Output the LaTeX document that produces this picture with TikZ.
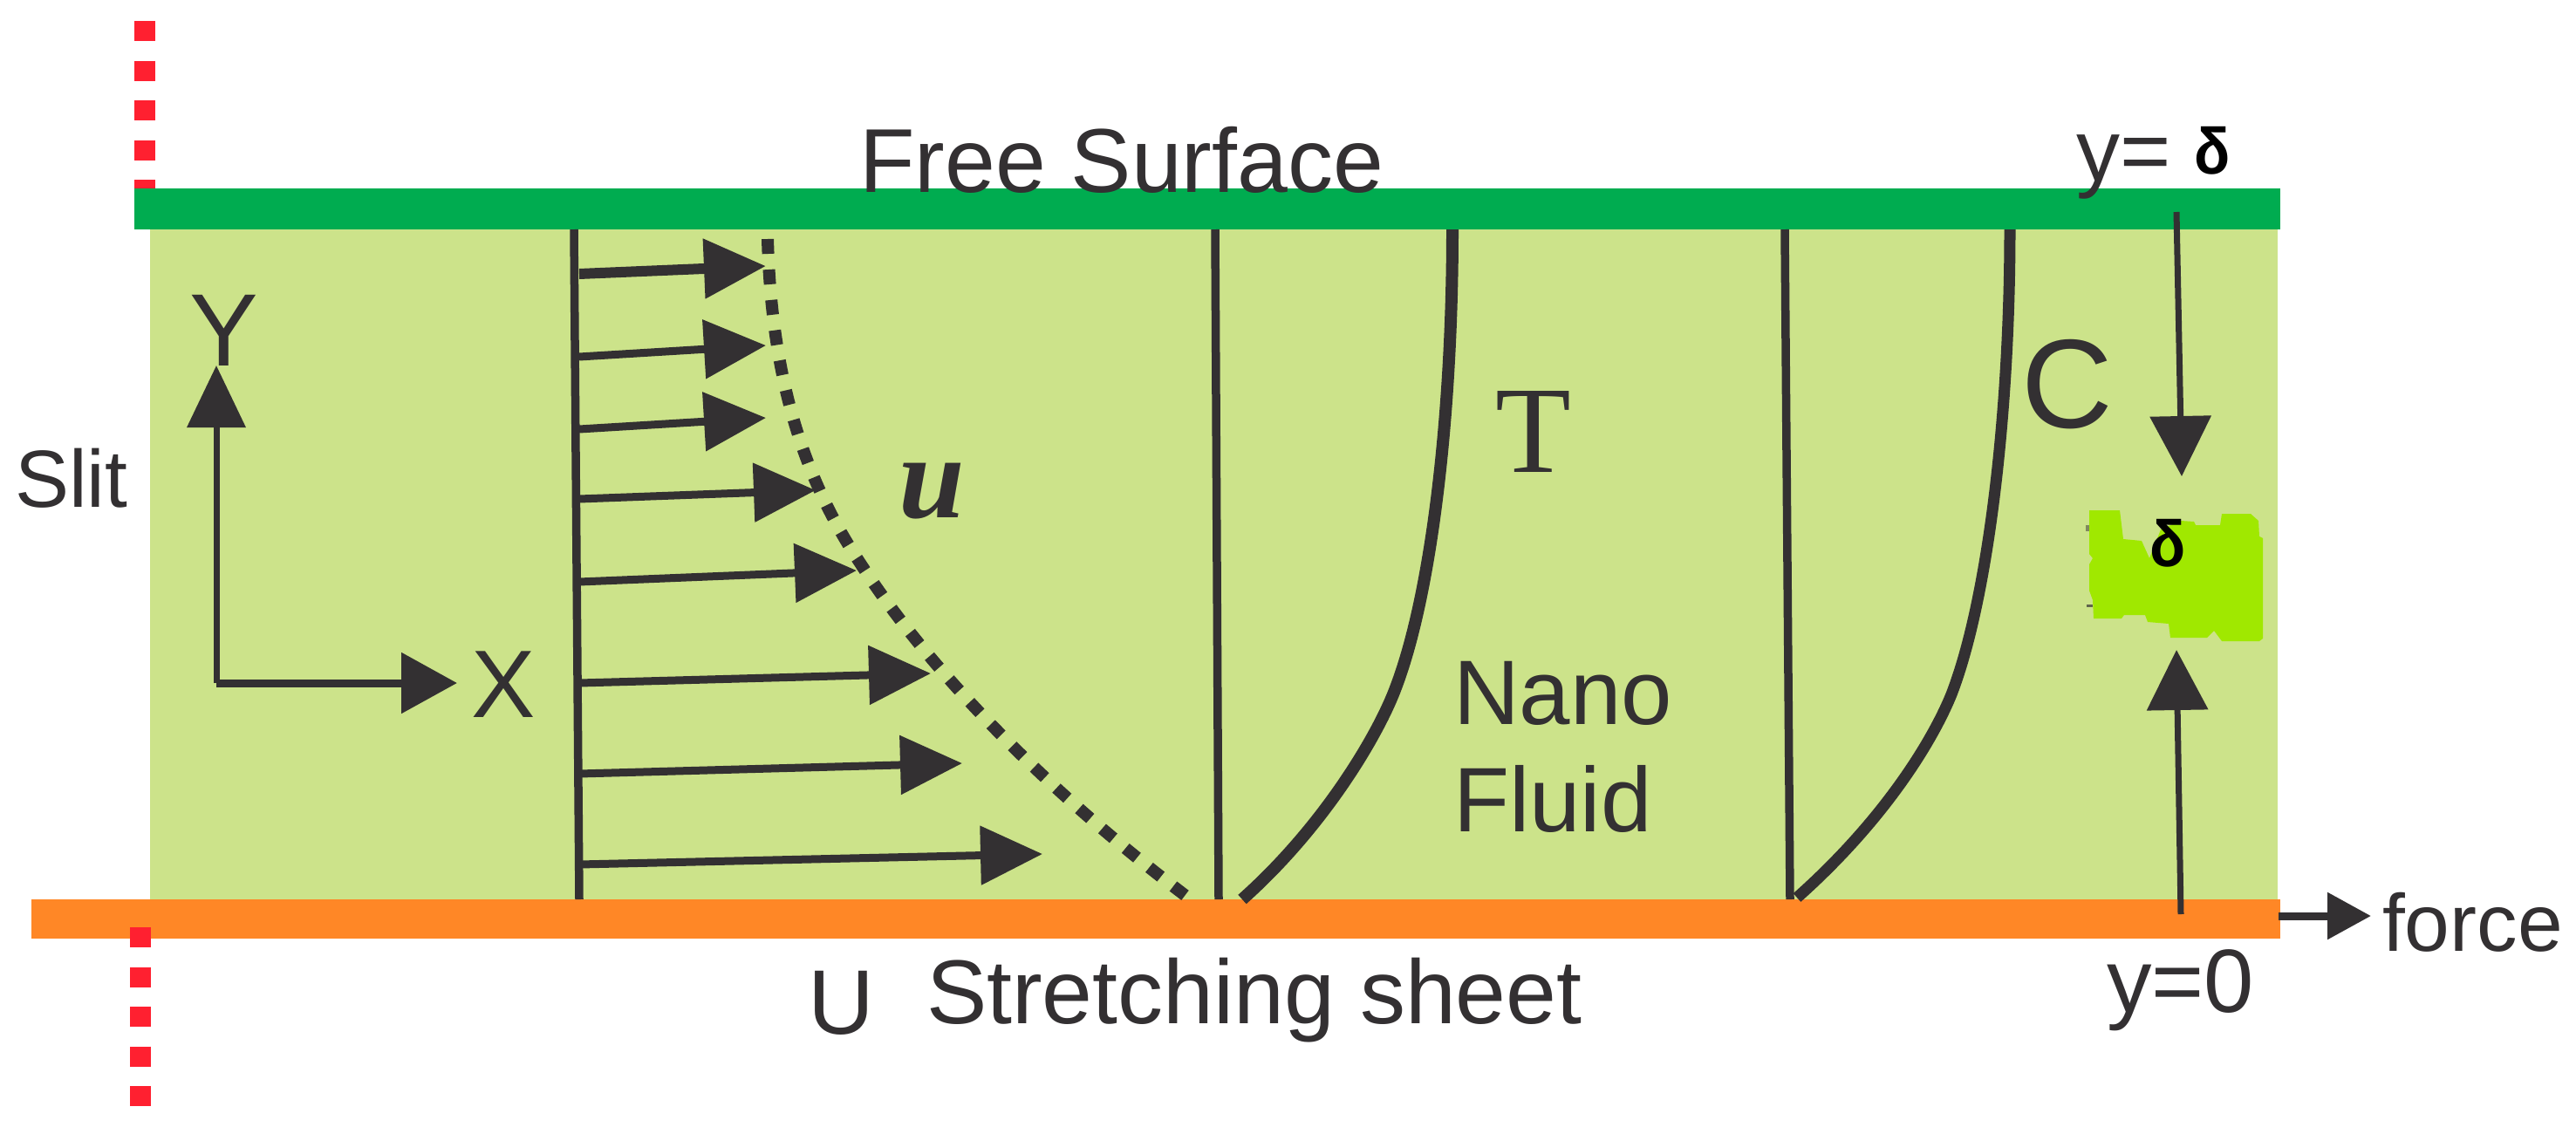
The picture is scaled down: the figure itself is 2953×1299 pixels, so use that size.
\documentclass[tikz,border=0pt]{standalone}
\usepackage{fontspec}
\setmainfont{Liberation Sans}
\newfontfamily\serifface{Liberation Serif}
\usetikzlibrary{arrows.meta}
\definecolor{ink}{HTML}{333032}
\definecolor{fluid}{HTML}{CCE38A}
\definecolor{topbar}{HTML}{00AC50}
\definecolor{sheet}{HTML}{FF8726}
\definecolor{blob}{HTML}{A0E800}
\definecolor{redline}{HTML}{FF2030}
\newcommand{\fs}[1]{\fontsize{#1}{#1}\selectfont}
\newcommand{\narrowdelta}{\scalebox{1.0}[1.1]{δ}}
\tikzset{
  x=1pt,y=-1pt,
  lbl/.style={anchor=base west,inner sep=0pt,outer sep=0pt,text=ink},
  profile/.style={draw=ink,line width=9.5pt},
  curveline/.style={draw=ink,line width=14pt},
  vel/.style={draw=ink,line width=9pt,-{Triangle[length=71pt,width=66pt]}},
  thin arrow/.style={draw=ink,line width=7pt,-{Triangle[length=69pt,width=69pt]}},
  reddash/.style={draw=redline,line width=24pt,dash pattern=on 23pt off 22.5pt},
}
\begin{document}
\begin{tikzpicture}
\useasboundingbox (0,0) rectangle (2953,1299);
% layers
\fill[fluid] (172,263) rectangle (2611,1031);
\fill[topbar] (154,216) rectangle (2614,263);
\fill[sheet] (36,1031) rectangle (2614,1076);
% red dashed slit
\draw[reddash] (166,24) -- (166,216);
\draw[reddash] (161,1063) -- (161,1273);
% blob
\fill[blob] (2395,585) -- (2430,585) -- (2434,618) -- (2455,620) -- (2464,640) -- (2477,607) -- (2500,597) -- (2515,598) -- (2517,602) -- (2545,602) -- (2547,589) -- (2580,589) -- (2589,597) -- (2590,615) -- (2594,617) -- (2594,732) -- (2590,735) -- (2547,735) -- (2538,723) -- (2530,731) -- (2488,731) -- (2486,715) -- (2462,713) -- (2459,705) -- (2435,705) -- (2432,709) -- (2400,709) -- (2399,688) -- (2395,677) -- (2395,647) -- (2399,640) -- (2395,635) -- cycle;
\fill[ink,opacity=.5] (2391,602) rectangle (2395,609);
\fill[ink,opacity=.7] (2392,693) rectangle (2399,696);
% velocity profile
\coordinate (v0) at (658,263); \coordinate (v1) at (664,1031);
\draw[profile] (v0) -- (v1);
\draw[vel,line width=12pt] (664,314) -- (878,305);
\foreach \sy/\tx/\ty in {409/878/396,492/878/479,572/935/562,667/982/654,783/1067/772,887/1103/875,991/1195/979}{
  \draw[vel] (664,\sy) -- (\tx,\ty);
}
% dashed envelope
\draw[draw=ink,line width=14pt,dash pattern=on 17pt off 18pt]
  (880,274) .. controls (884,420) and (915,540) .. (987,647) .. controls (1060,760) and (1190,900) .. (1366,1032);
% temperature profile
\draw[profile] (1393,263) -- (1397,1031);
\draw[curveline] (1665,263) .. controls (1665,480) and (1640,690) .. (1597,796) .. controls (1575,850) and (1515,950) .. (1424,1031);
% concentration profile
\draw[profile] (2046,263) -- (2052,1031);
\draw[curveline,line width=13pt] (2304,263) .. controls (2304,480) and (2278,690) .. (2237,796) .. controls (2215,850) and (2160,940) .. (2060,1029);
% axes
\coordinate (origin) at (248,783);
\coordinate (ytip) at (248,419);
\coordinate (xtip) at (524,783);
\draw[thin arrow,-{Triangle[length=71pt,width=66pt]}] (origin) -- (ytip);
\draw[thin arrow,line width=9pt,-{Triangle[length=64pt,width=68pt]}] (origin) -- (xtip);
% delta arrows
\coordinate (da) at (2495,243); \coordinate (db) at (2501,546);
\coordinate (ua) at (2500,1048); \coordinate (ub) at (2495,745);
\draw[thin arrow] (da) -- (db);
\draw[thin arrow] (ua) -- (ub);
% force arrow
\coordinate (fa) at (2612,1050); \coordinate (fb) at (2718,1050);
\draw[thin arrow,line width=9pt,-{Triangle[length=50pt,width=52pt]}] (fa) -- (fb);
% labels
\node[lbl,font=\fs{104}] (free) at (985,220) {Free Surface};
\node[lbl,font=\fs{93}] (slit) at (17,581) {Slit};
\node[lbl,font=\fs{118}] (ylab) at (217,419) {Y};
\node[lbl,font=\fs{110}] (xlab) at (540,822) {X};
\node[lbl,font=\serifface\bfseries\itshape\fs{136}] (ulab) at (1030,593) {u};
\node[lbl,font=\serifface\fs{142}] (tlab) at (1714,541) {T};
\node[lbl,font=\fs{145}] (clab) at (2317,490) {C};
\node[lbl,font=\fs{105}] (nano) at (1666,830) {Nano};
\node[lbl,font=\fs{105}] (fluidlab) at (1666,953) {Fluid};
\node[lbl,font=\fs{104}] (sheetlab) at (1062,1173) {Stretching sheet};
\node[lbl,font=\fs{105}] (ulabel) at (926,1185) {U};
\node[lbl,font=\fs{100}] (ytop) at (2380,207) {y=};
\node[lbl,text=black,font=\bfseries\fs{68}] (dtop) at (2515,199) {\narrowdelta};
\node[lbl,text=black,font=\bfseries\fs{68}] (dmid) at (2464,649) {\narrowdelta};
\node[lbl,font=\fs{103}] (ybot) at (2415,1160) {y=0};
\node[lbl,font=\fs{93}] (force) at (2731,1090) {force};
\end{tikzpicture}
\end{document}
